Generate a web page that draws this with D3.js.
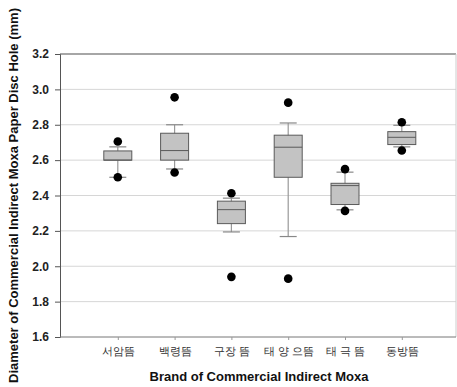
<!DOCTYPE html>
<html>
<head>
<meta charset="utf-8">
<script src="https://cdn.jsdelivr.net/npm/d3@7"></script>
<style>
  body { margin: 0; background: #fff; }
  text { font-family: "Liberation Sans", Arial, sans-serif; }
</style>
</head>
<body>
<div id="chart"></div>
<script>
// brand names and box statistics
const brands = ["서암뜸", "백령뜸", "구장 뜸", "태 양 으뜸", "태 극 뜸", "동방뜸"];
const q1 = [2.6, 2.6, 2.241, 2.503, 2.349, 2.688];
const median = [2.6, 2.654, 2.32, 2.673, 2.456, 2.729];
const q3 = [2.652, 2.752, 2.368, 2.741, 2.469, 2.761];
const whiskerLow = [2.503, 2.55, 2.194, 2.168, 2.319, 2.675];
const whiskerHigh = [2.675, 2.8, 2.385, 2.81, 2.532, 2.797];
const outlierHigh = [2.705, 2.955, 2.413, 2.925, 2.549, 2.814];
const outlierLow = [2.503, 2.53, 1.94, 1.93, 2.313, 2.654];
const yTicks = [1.6, 1.8, 2.0, 2.2, 2.4, 2.6, 2.8, 3.0, 3.2];

const W = 457, H = 387;
const plot = { left: 60, right: 456, top: 54, bottom: 337 };

const svg = d3.select("#chart").append("svg")
  .attr("width", W).attr("height", H);

const x = d3.scaleLinear().domain([0, 7]).range([plot.left + 1, plot.left + 1 + 56.8 * 7]);
const y = d3.scaleLinear().domain([1.6, 3.2]).range([plot.bottom, plot.top]);

// gridlines
svg.append("g").selectAll("line")
  .data(yTicks.slice(1, -1))
  .enter().append("line")
  .attr("x1", plot.left).attr("x2", plot.right)
  .attr("y1", d => y(d)).attr("y2", d => y(d))
  .attr("stroke", "#d6d6d6").attr("stroke-width", 1);

// frame top / right
svg.append("line")
  .attr("x1", plot.left).attr("x2", plot.right)
  .attr("y1", plot.top).attr("y2", plot.top)
  .attr("stroke", "#888").attr("stroke-width", 1.3);
svg.append("line")
  .attr("x1", plot.right).attr("x2", plot.right)
  .attr("y1", plot.top).attr("y2", plot.bottom)
  .attr("stroke", "#ccc");

// y axis
const yAxis = d3.axisLeft(y).tickValues(yTicks).tickFormat(d3.format(".1f")).tickSize(5).tickPadding(6);
svg.append("g")
  .attr("transform", "translate(" + plot.left + ",0)")
  .call(yAxis)
  .call(g => g.select(".domain").attr("stroke", "#555"))
  .call(g => g.selectAll(".tick line").attr("stroke", "#555"))
  .call(g => g.selectAll("text")
    .attr("font-size", 12).attr("font-weight", "bold").attr("fill", "#222")
    .attr("font-family", "Liberation Sans, Arial, sans-serif"));

// x axis
const xAxis = d3.axisBottom(x).tickValues(d3.range(1, 7)).tickFormat(i => brands[i - 1]).tickSize(3).tickPadding(7);
svg.append("g")
  .attr("transform", "translate(0," + plot.bottom + ")")
  .call(xAxis)
  .call(g => g.select(".domain").attr("d", "M" + plot.left + ",0H" + plot.right).attr("stroke", "#777"))
  .call(g => g.selectAll(".tick line").attr("stroke", "#999"))
  .call(g => g.selectAll("text")
    .attr("font-size", 11).attr("fill", "#333")
    .attr("font-family", "Noto Sans CJK KR, sans-serif"));

// boxes
const boxW = 28, capW = 17;
const idx = d3.range(brands.length);
const boxes = svg.append("g").selectAll("g")
  .data(idx).enter().append("g");

boxes.append("line")
  .attr("x1", i => x(i + 1)).attr("x2", i => x(i + 1))
  .attr("y1", i => y(whiskerLow[i])).attr("y2", i => y(whiskerHigh[i]))
  .attr("stroke", "#999").attr("stroke-width", 1.2);
boxes.append("line")
  .attr("x1", i => x(i + 1) - capW / 2).attr("x2", i => x(i + 1) + capW / 2)
  .attr("y1", i => y(whiskerHigh[i])).attr("y2", i => y(whiskerHigh[i]))
  .attr("stroke", "#888").attr("stroke-width", 1.2);
boxes.append("line")
  .attr("x1", i => x(i + 1) - capW / 2).attr("x2", i => x(i + 1) + capW / 2)
  .attr("y1", i => y(whiskerLow[i])).attr("y2", i => y(whiskerLow[i]))
  .attr("stroke", "#888").attr("stroke-width", 1.2);
boxes.append("rect")
  .attr("x", i => x(i + 1) - boxW / 2)
  .attr("width", boxW)
  .attr("y", i => y(q3[i]))
  .attr("height", i => y(q1[i]) - y(q3[i]))
  .attr("fill", "#c3c3c3").attr("stroke", "#5a5a5a").attr("stroke-width", 1);
boxes.append("line")
  .attr("x1", i => x(i + 1) - boxW / 2).attr("x2", i => x(i + 1) + boxW / 2)
  .attr("y1", i => y(median[i])).attr("y2", i => y(median[i]))
  .attr("stroke", "#5a5a5a").attr("stroke-width", 1);

// outlier dots
boxes.append("circle")
  .attr("cx", i => x(i + 1)).attr("cy", i => y(outlierHigh[i]))
  .attr("r", 4.3).attr("fill", "#000");
boxes.append("circle")
  .attr("cx", i => x(i + 1)).attr("cy", i => y(outlierLow[i]))
  .attr("r", 4.3).attr("fill", "#000");

// axis titles
svg.append("text")
  .attr("transform", "translate(19," + (plot.top + plot.bottom) / 2 + ") rotate(-90)")
  .attr("text-anchor", "middle")
  .attr("font-size", 13).attr("font-weight", "bold").attr("fill", "#111")
  .attr("dy", "-0.1em")
  .text("Diameter of Commercial Indirect Moxa Paper Disc Hole (mm)");

svg.append("text")
  .attr("x", 259).attr("y", 381)
  .attr("text-anchor", "middle")
  .attr("font-size", 13).attr("font-weight", "bold").attr("fill", "#111")
  .text("Brand of Commercial Indirect Moxa");
</script>
</body>
</html>
